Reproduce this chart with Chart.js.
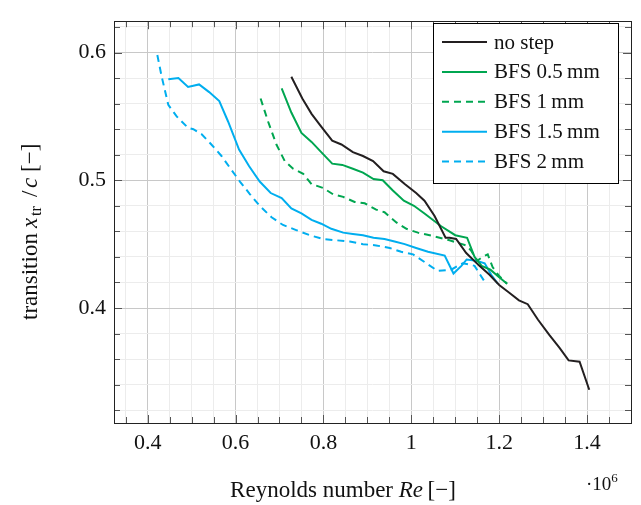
<!DOCTYPE html>
<html>
<head>
<meta charset="utf-8">
<script src="https://cdn.jsdelivr.net/npm/chart.js@4"></script>
<style>
  body { margin: 0; background: #fff; }
  #wrap { width: 641px; height: 505px; }
</style>
</head>
<body>
<div id="wrap"><canvas id="c" width="641" height="505"></canvas></div>
<script>
// transition location vs Reynolds number (Re in 1e6)

const labels = ["no step", "BFS 0.5\u2009mm", "BFS 1\u2009mm", "BFS 1.5\u2009mm", "BFS 2\u2009mm"];

const noStepRe = [0.727,0.752,0.773,0.795,0.820,0.841,0.867,0.890,0.913,0.937,0.958,0.985,1.011,1.030,1.053,1.078,1.087,1.102,1.125,1.155,1.178,1.200,1.223,1.245,1.265,1.288,1.314,1.337,1.358,1.383,1.405];
const noStepX  = [0.581,0.564,0.552,0.542,0.531,0.528,0.522,0.519,0.515,0.507,0.505,0.497,0.490,0.484,0.472,0.455,0.455,0.454,0.443,0.433,0.426,0.418,0.412,0.406,0.403,0.391,0.379,0.369,0.359,0.358,0.336];

const bfs05Re = [0.705,0.727,0.750,0.773,0.795,0.820,0.843,0.867,0.890,0.914,0.935,0.958,0.983,1.006,1.030,1.068,1.100,1.127,1.144,1.160,1.180,1.200,1.218];
const bfs05X  = [0.572,0.553,0.537,0.530,0.522,0.513,0.512,0.509,0.506,0.501,0.500,0.492,0.484,0.480,0.474,0.464,0.457,0.455,0.440,0.433,0.430,0.424,0.419];

const bfs1Re = [0.657,0.674,0.693,0.712,0.731,0.754,0.773,0.799,0.822,0.845,0.871,0.894,0.920,0.939,0.966,0.989,1.015,1.042,1.087,1.125,1.136,1.150,1.162,1.174,1.185,1.200,1.218];
const bfs1X  = [0.564,0.546,0.528,0.515,0.509,0.505,0.497,0.494,0.489,0.487,0.483,0.482,0.477,0.475,0.467,0.462,0.459,0.457,0.453,0.449,0.445,0.437,0.440,0.442,0.432,0.425,0.419];

const bfs15Re = [0.447,0.470,0.492,0.517,0.540,0.563,0.583,0.608,0.631,0.655,0.680,0.705,0.727,0.750,0.773,0.795,0.818,0.845,0.867,0.890,0.914,0.939,0.962,0.985,1.011,1.038,1.076,1.096,1.114,1.126,1.148,1.167,1.182,1.197];
const bfs15X  = [0.579,0.580,0.573,0.575,0.569,0.562,0.546,0.524,0.511,0.499,0.490,0.486,0.478,0.474,0.469,0.466,0.462,0.459,0.458,0.457,0.455,0.454,0.452,0.450,0.447,0.444,0.441,0.427,0.433,0.438,0.437,0.435,0.426,0.419];

const bfs2Re = [0.422,0.432,0.447,0.466,0.492,0.504,0.523,0.545,0.568,0.591,0.610,0.633,0.655,0.682,0.708,0.738,0.769,0.799,0.830,0.860,0.890,0.920,0.951,0.977,1.004,1.030,1.060,1.091,1.106,1.117,1.133,1.144,1.155,1.170];
const bfs2X  = [0.598,0.581,0.559,0.550,0.541,0.540,0.536,0.528,0.519,0.508,0.499,0.489,0.480,0.471,0.465,0.461,0.457,0.454,0.453,0.452,0.450,0.449,0.447,0.444,0.442,0.436,0.429,0.430,0.433,0.435,0.434,0.433,0.427,0.419];

const xTicks = [0.4, 0.6, 0.8, 1, 1.2, 1.4];
const yTicks = [0.4, 0.5, 0.6];

const BLACK = "#231f20", GREEN = "#00a650", BLUE = "#00aeef";
const FONT = '"Liberation Serif", "DejaVu Serif", serif';

const pts = (xs, ys) => xs.map((x, i) => ({ x: x, y: ys[i] }));

function ds(label, xs, ys, color, dashed) {
  return {
    label: label,
    data: pts(xs, ys),
    borderColor: color,
    backgroundColor: color,
    borderWidth: 2,
    borderDash: dashed ? [7, 5] : [],
    showLine: true,
    pointRadius: 0,
    tension: 0
  };
}

// minor tick positions (step 0.05 on x, 0.02 on y)
const xMinor = [];
for (let i = 7; i <= 30; i++) xMinor.push(Math.round(i * 5) / 100);
const yMinor = [];
for (let i = 16; i <= 31; i++) yMinor.push(Math.round(i * 2) / 100);

const isMajor = (v, list) => list.some(t => Math.abs(t - v) < 1e-6);

const frame = {
  id: "frame",
  afterDatasetsDraw(chart) {
    const { ctx, chartArea: a, scales } = chart;
    ctx.save();
    // inward ticks on all four sides
    ctx.strokeStyle = "#555";
    ctx.lineWidth = 1;
    ctx.beginPath();
    xMinor.forEach(v => {
      const px = Math.round(scales.x.getPixelForValue(v)) + 0.5;
      const len = isMajor(v, xTicks) ? 8 : 6;
      ctx.moveTo(px, a.bottom); ctx.lineTo(px, a.bottom - len);
      ctx.moveTo(px, a.top); ctx.lineTo(px, a.top + len);
    });
    yMinor.forEach(v => {
      const py = Math.round(scales.y.getPixelForValue(v)) + 0.5;
      const len = isMajor(v, yTicks) ? 8 : 6;
      ctx.moveTo(a.left, py); ctx.lineTo(a.left + len, py);
      ctx.moveTo(a.right, py); ctx.lineTo(a.right - len, py);
    });
    ctx.stroke();
    ctx.strokeStyle = "#222";
    ctx.strokeRect(Math.round(a.left) + 0.5, Math.round(a.top) + 0.5,
                   Math.round(a.right - a.left), Math.round(a.bottom - a.top));

    // legend
    const lx = 433.5, ly = 23.5, lw = 185, lh = 160;
    ctx.fillStyle = "#fff";
    ctx.fillRect(lx, ly, lw, lh);
    ctx.strokeStyle = "#000";
    ctx.strokeRect(lx, ly, lw, lh);
    ctx.font = "21px " + FONT;
    ctx.textBaseline = "middle";
    chart.data.datasets.forEach((d, i) => {
      const y = 42 + i * 29.9;
      ctx.strokeStyle = d.borderColor;
      ctx.lineWidth = 2;
      ctx.setLineDash(d.borderDash);
      ctx.beginPath();
      ctx.moveTo(442, y); ctx.lineTo(487, y);
      ctx.stroke();
      ctx.setLineDash([]);
      ctx.fillStyle = "#111";
      ctx.fillText(d.label, 494, y + 1);
    });

    // axis titles
    ctx.fillStyle = "#111";
    ctx.textBaseline = "alphabetic";
    const parts = (list) => list.reduce((w, p) => { ctx.font = p[1]; return w + ctx.measureText(p[0]).width; }, 0);
    const drawParts = (list, x0, y0) => {
      let x = x0;
      list.forEach(p => {
        ctx.font = p[1];
        ctx.fillText(p[0], x, y0 + (p[2] || 0));
        x += ctx.measureText(p[0]).width;
      });
    };
    const R = "23px " + FONT, I = "italic 23px " + FONT, S = "16px " + FONT;
    const xt = [["Reynolds number ", R], ["Re", I], ["\u2009[\u2212]", R]];
    drawParts(xt, 343 - parts(xt) / 2, 497);

    // y title pieces placed along the rotated baseline
    const yt = [["transition", R, 0, 0], ["x", I, 92, 0], ["tr", S, 104, 4],
                ["/", R, 123, 0], ["c", I, 132, 0], ["[\u2212]", R, 148, 0]];
    ctx.save();
    ctx.translate(37, 320);
    ctx.rotate(-Math.PI / 2);
    yt.forEach(p => { ctx.font = p[1]; ctx.fillText(p[0], p[2], p[3]); });
    ctx.restore();

    drawParts([["\u00b710", "19px " + FONT], ["6", "13px " + FONT, -8]], 586, 490);
    ctx.restore();
  }
};

new Chart(document.getElementById("c"), {
  type: "scatter",
  data: {
    datasets: [
      ds(labels[0], noStepRe, noStepX, BLACK, false),
      ds(labels[1], bfs05Re, bfs05X, GREEN, false),
      ds(labels[2], bfs1Re, bfs1X, GREEN, true),
      ds(labels[3], bfs15Re, bfs15X, BLUE, false),
      ds(labels[4], bfs2Re, bfs2X, BLUE, true)
    ]
  },
  options: {
    responsive: false,
    animation: false,
    layout: { padding: { top: 10, right: 10, left: 0, bottom: 0 } },
    plugins: { legend: { display: false }, tooltip: { enabled: false } },
    scales: {
      x: {
        type: "linear",
        min: 0.3234,
        max: 1.5,
        afterFit: s => { s.height = 82; },
        afterBuildTicks: s => { s.ticks = xMinor.map(v => ({ value: v })); },
        ticks: {
          autoSkip: false,
          maxRotation: 0,
          padding: 7,
          color: "#111",
          font: { family: FONT, size: 22 },
          callback: v => isMajor(v, xTicks) ? String(Math.round(v * 10) / 10) : ""
        },
        grid: {
          drawTicks: false,
          color: c => isMajor(c.tick.value, xTicks) ? "#c8c8c8" : "#ececec"
        },
        border: { display: false }
      },
      y: {
        type: "linear",
        min: 0.31,
        max: 0.6245,
        afterFit: s => { s.width = 114; },
        afterBuildTicks: s => { s.ticks = yMinor.map(v => ({ value: v })); },
        ticks: {
          autoSkip: false,
          padding: 8,
          color: "#111",
          font: { family: FONT, size: 22 },
          callback: v => isMajor(v, yTicks) ? String(Math.round(v * 10) / 10) : ""
        },
        grid: {
          drawTicks: false,
          color: c => isMajor(c.tick.value, yTicks) ? "#c8c8c8" : "#ececec"
        },
        border: { display: false }
      }
    }
  },
  plugins: [frame]
});
</script>
</body>
</html>
